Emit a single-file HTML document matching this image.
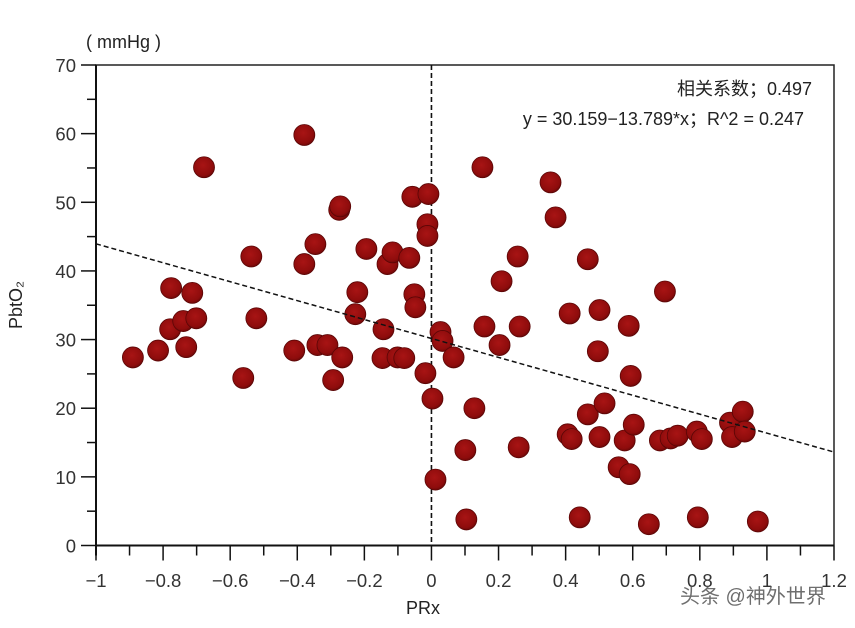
<!DOCTYPE html>
<html><head><meta charset="utf-8"><style>
body{margin:0;background:#fff}
svg text{font-family:"Liberation Sans","Noto Sans CJK SC",sans-serif}
</style></head><body>
<svg width="855" height="623" viewBox="0 0 855 623" xmlns="http://www.w3.org/2000/svg">
<defs><radialGradient id="dg" cx="0.45" cy="0.4" r="0.6"><stop offset="0" stop-color="#a81414"/><stop offset="0.8" stop-color="#8e0c0c"/><stop offset="1" stop-color="#6e0808"/></radialGradient></defs>
<g id="plot"></g>
</svg>
<script>
const xs=[-0.89,-0.815,-0.776,-0.779,-0.74,-0.731,-0.713,-0.701,-0.678,-0.561,-0.537,-0.522,-0.409,-0.379,-0.379,-0.346,-0.34,-0.31,-0.293,-0.275,-0.272,-0.266,-0.227,-0.221,-0.194,-0.146,-0.143,-0.131,-0.116,-0.101,-0.081,-0.066,-0.057,-0.051,-0.048,-0.018,-0.009,-0.012,-0.012,0.003,0.027,0.033,0.012,0.066,0.101,0.128,0.104,0.152,0.158,0.203,0.209,0.257,0.26,0.263,0.355,0.37,0.406,0.412,0.418,0.442,0.466,0.466,0.501,0.496,0.501,0.516,0.558,0.576,0.591,0.603,0.648,0.681,0.696,0.713,0.734,0.791,0.794,0.806,0.89,0.896,0.928,0.934,0.973,0.588,0.594];
const ys=[27.4,28.4,37.5,31.5,32.7,28.9,36.8,33.1,55.1,24.4,42.1,33.1,28.4,59.8,41.0,43.9,29.2,29.2,24.1,48.9,49.4,27.4,33.7,36.9,43.2,27.3,31.5,41.0,42.7,27.4,27.3,41.9,50.8,36.6,34.7,25.1,51.2,46.8,45.1,21.4,31.1,29.8,9.6,27.4,13.9,20.0,3.8,55.1,31.9,29.2,38.5,42.1,14.3,31.9,52.9,47.8,16.2,33.8,15.5,4.1,41.7,19.1,34.3,28.3,15.8,20.7,11.4,15.3,10.4,17.6,3.1,15.3,37.0,15.6,16.0,16.6,4.1,15.5,17.9,15.8,19.5,16.6,3.5,32.0,24.7];
const xTicks=[-1,-0.8,-0.6,-0.4,-0.2,0,0.2,0.4,0.6,0.8,1,1.2];
const xTickLabels=["−1","−0.8","−0.6","−0.4","−0.2","0","0.2","0.4","0.6","0.8","1","1.2"];
const yTicks=[0,10,20,30,40,50,60,70];
const intercept=30.159, slope=-13.789;
const L=96,R=834,T=65,B=545.5;
const sx=v=>L+(v+1)/2.2*(R-L), sy=v=>B-v/70*(B-T);
const g=document.getElementById('plot'), NS='http://www.w3.org/2000/svg';
function mk(t,a,txt){const e=document.createElementNS(NS,t);for(const k in a)e.setAttribute(k,a[k]);if(txt!==undefined)e.textContent=txt;g.appendChild(e);return e;}
let e;
e=mk('path',{d:`M${L} ${B}V${T}H${R}V${B}`,fill:'none',stroke:'#222','stroke-width':1.5});

e=mk('line',{x1:L,y1:B,x2:R,y2:B,stroke:'#111','stroke-width':2});

e=mk('line',{x1:L,y1:B+10,x2:L,y2:T,stroke:'#111','stroke-width':2});

for(let i=0;i<=22;i++){const v=-1+i*0.1;const maj=i%2==0;
 e=mk('line',{x1:sx(v),y1:B,x2:sx(v),y2:B+(maj?15:10),stroke:'#111','stroke-width':1.5});
 }
xTicks.forEach((v,i)=>{e=mk('text',{x:sx(v),y:587,'text-anchor':'middle','font-size':18.5,fill:'#333'},xTickLabels[i]);
 });
for(let v=0;v<=70;v+=5){const maj=v%10==0;
 e=mk('line',{x1:L-(maj?15:9),y1:sy(v),x2:L,y2:sy(v),stroke:'#111','stroke-width':1.5});
 }
yTicks.forEach(v=>{e=mk('text',{x:76,y:sy(v)+7,'text-anchor':'end','font-size':18.5,fill:'#333'},String(v));
 });
e=mk('line',{x1:sx(0),y1:T,x2:sx(0),y2:B,stroke:'#111','stroke-width':1.6,'stroke-dasharray':'5,3'});

xs.forEach((x,i)=>{e=mk('circle',{cx:sx(x),cy:sy(ys[i]),r:10.5,fill:'url(#dg)',stroke:'#5a0606','stroke-width':0.8});
 });
e=mk('line',{x1:sx(-1),y1:sy(intercept+slope*-1),x2:sx(1.2),y2:sy(intercept+slope*1.2),stroke:'#111','stroke-width':1.5,'stroke-dasharray':'5,3'});

e=mk('text',{x:812,y:95,'text-anchor':'end','font-size':18,fill:'#222'},'相关系数；0.497');

e=mk('text',{x:804,y:125,'text-anchor':'end','font-size':18,fill:'#222'},'y = 30.159−13.789*x；R^2 = 0.247');

e=mk('text',{x:86,y:48,'font-size':18,fill:'#222'},'( mmHg )');

e=mk('text',{x:0,y:0,'font-size':18,fill:'#222','text-anchor':'middle',transform:'translate(22,305) rotate(-90)'},'PbtO₂');

e=mk('text',{x:423,y:614,'font-size':18,fill:'#222','text-anchor':'middle'},'PRx');

e=mk('text',{x:680,y:603,'font-size':20,fill:'#555',opacity:0.85},'头条 @神外世界');

</script>
</body></html>
